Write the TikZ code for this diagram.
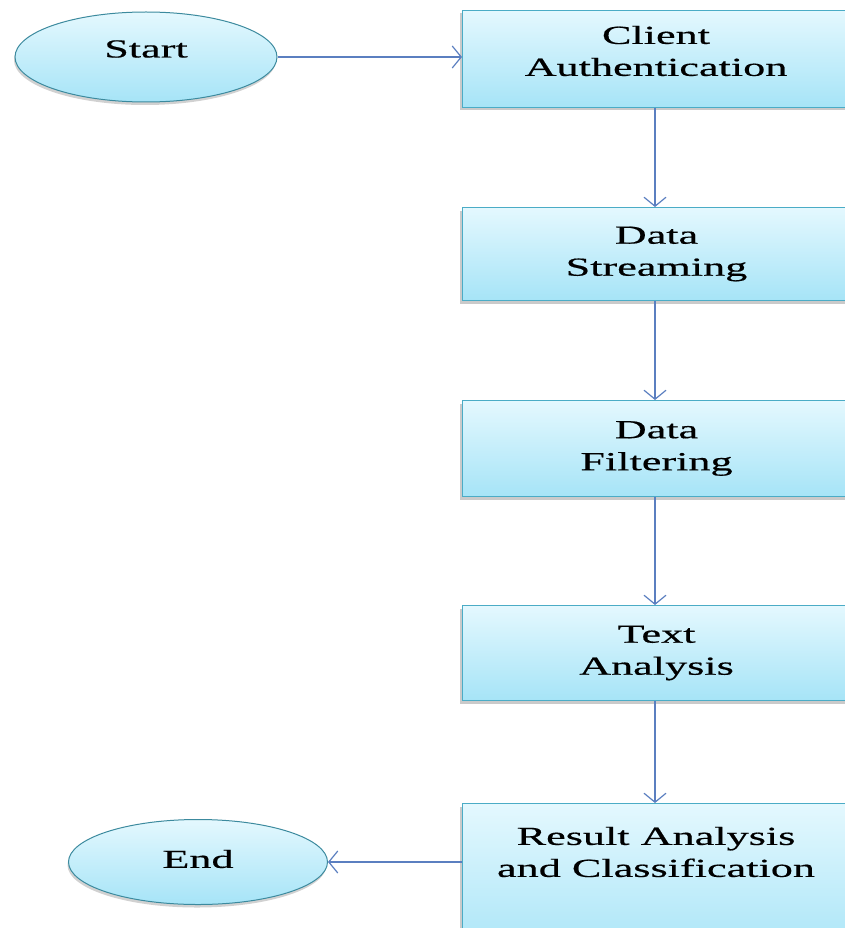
\documentclass[tikz,border=0pt]{standalone}
\usepackage{fontspec}
\setmainfont[FakeStretch=1.7,FakeBold=0.5]{Liberation Serif}
\usetikzlibrary{shapes.geometric,arrows.meta,shadows}
\definecolor{topc}{HTML}{E4F8FE}
\definecolor{botc}{HTML}{A6E4F7}
\definecolor{edgec}{HTML}{4BACC6}
\definecolor{arrc}{HTML}{5B7FC0}
\tikzset{
  boxnode/.style={draw=edgec, line width=1pt, top color=topc, bottom color=botc,
    minimum width=388pt, inner sep=0pt, align=center,
    font=\fontsize{26}{32}\selectfont,
    drop shadow={shadow xshift=-2.5pt, shadow yshift=-3pt, opacity=0.35, fill=black!60}},
  ovalnode/.style={ellipse, draw=edgec!80!black, line width=1pt, top color=topc, bottom color=botc,
    inner sep=0pt, font=\fontsize{26}{32}\selectfont,
    drop shadow={shadow xshift=-1pt, shadow yshift=-3pt, opacity=0.3, fill=black!60}},
  txtnode/.style={align=center, font=\fontsize{26}{32}\selectfont, inner sep=0pt},
  flow/.style={draw=arrc, line width=1.2pt, -{Straight Barb[length=9pt,width=22pt,line width=1.2pt]}}
}
\begin{document}
\begin{tikzpicture}[x=1pt,y=-1pt]
\useasboundingbox (0,0) rectangle (845,928);
\node[ovalnode, minimum width=262pt, minimum height=90pt] (start) at (146,57) {\raisebox{8pt}[\height][\depth]{Start}};
\node[boxnode, minimum height=97pt, anchor=north west] (ca) at (462,10) {};
\node[txtnode] (cat) at (656,51) {Client\\Authentication};
\node[boxnode, minimum height=93pt, anchor=north west] (ds) at (462,207) {Data\\Streaming};
\node[boxnode, minimum height=96pt, anchor=north west] (df) at (462,400) {Data\\Filtering};
\node[boxnode, minimum height=95pt, anchor=north west] (ta) at (462,605) {Text\\Analysis};
\node[boxnode, minimum height=160pt, anchor=north west] (rc) at (462,803) {};
\node[txtnode] (rct) at (656,852) {Result Analysis\\and Classification};
\node[ovalnode, minimum width=259pt, minimum height=85pt] (end) at (198,862) {\raisebox{3pt}[\height][\depth]{End}};
\draw[flow] (start.east) -- (ca.west |- start.east);
\draw[flow] (ca.south -| 655,0) -- (ds.north -| 655,0);
\draw[flow] (ds.south -| 655,0) -- (df.north -| 655,0);
\draw[flow] (df.south -| 655,0) -- (ta.north -| 655,0);
\draw[flow] (ta.south -| 655,0) -- (rc.north -| 655,0);
\draw[flow] (rc.west |- end.east) -- (end.east);
\end{tikzpicture}
\end{document}
